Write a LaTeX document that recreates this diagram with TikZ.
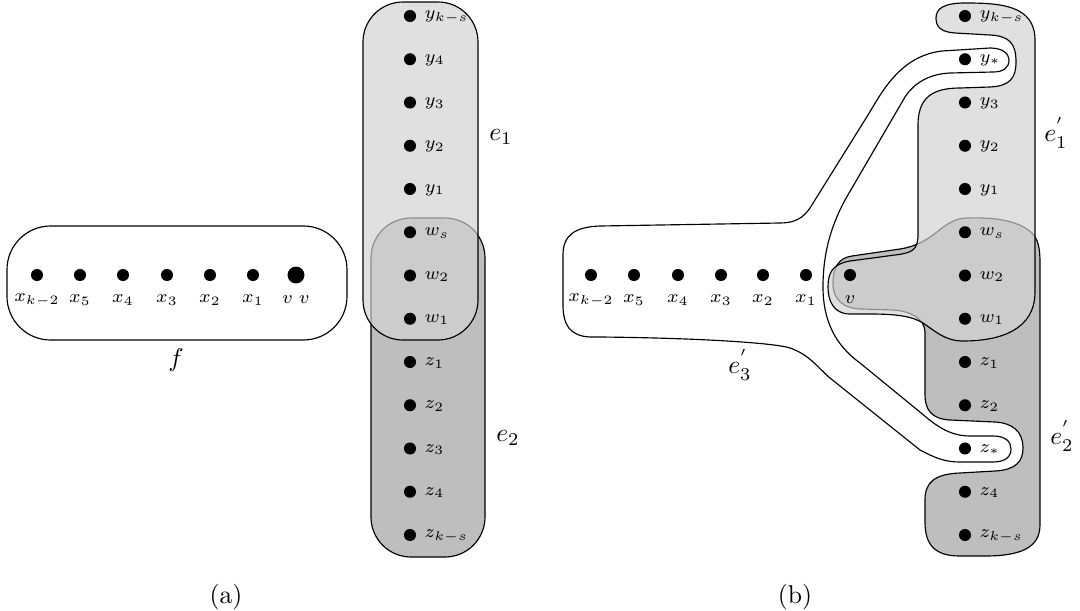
\documentclass[tikz,border=0pt]{standalone}
\definecolor{lgray}{gray}{0.88}
\definecolor{dgray}{gray}{0.745}
\definecolor{mgray}{gray}{0.80}
\definecolor{bgray}{gray}{0.55}
\tikzset{
  vtx/.style={circle,fill=black,inner sep=0pt,minimum size=4.7pt},
  bigvtx/.style={circle,fill=black,inner sep=0pt,minimum size=6.6pt},
  vlab/.style={inner sep=0pt,font=\scriptsize},
  border/.style={line width=0.45pt,black},
  graybord/.style={line width=0.45pt,bgray},
  erase/.style={line width=1.4pt,lgray},
  rc/.style={rounded corners=15.6pt}
}
\def\EoneA{(363,2) rectangle (478,340)}
\def\EtwoA{(371,218) rectangle (485,557)}
\def\EoneB{(965,3) .. controls (1000,3) and (1035,5) .. (1035,40) -- (1035,292) .. controls (1035,330) and (1000,341) .. (963,341) .. controls (945,341) and (935,331) .. (923,323) .. controls (912,316) and (895,314) .. (870,314) -- (850,314) .. controls (833,314) and (828,300) .. (828,287) .. controls (828,272) and (833,264) .. (850,261) -- (895,255) .. controls (912,253) and (918,250) .. (918,235) -- (918,125) .. controls (918,98) and (932,88) .. (960,88) -- (990,87) .. controls (1010,86) and (1016,78) .. (1016,62) .. controls (1016,44) and (1010,36) .. (990,35) -- (955,33) .. controls (941,32) and (936,27) .. (936,18) .. controls (936,8) and (945,3) .. (965,3) -- cycle}
\def\EtwoB{(967,218) .. controls (1000,217) and (1020,222) .. (1032,233) .. controls (1038,239) and (1040,248) .. (1040,262) -- (1040,525) .. controls (1040,548) and (1020,556) .. (985,556) -- (960,556) .. controls (935,556) and (925,545) .. (925,522) -- (925,500) .. controls (925,482) and (935,474) .. (960,473) -- (995,471) .. controls (1015,470) and (1023,462) .. (1023,448) .. controls (1023,431) and (1012,423) .. (995,422) -- (950,420) .. controls (932,419) and (925,410) .. (925,395) -- (925,332) .. controls (925,320) and (912,311) .. (893,310) -- (862,309) .. controls (842,309) and (833,298) .. (833,284) .. controls (833,268) and (838,258) .. (852,256) -- (900,249) .. controls (920,246) and (932,236) .. (942,228) .. controls (950,222) and (958,218) .. (967,218) -- cycle}
\def\EthreeB{(600,226) -- (780,223) .. controls (795,223) and (803,218) .. (810,208) -- (868,115) .. controls (882,92) and (900,56) .. (942,51) -- (990,48) .. controls (1003,48) and (1009,54) .. (1009,60) .. controls (1009,68) and (1003,72) .. (993,72) -- (950,73) .. controls (930,74) and (915,82) .. (905,97) -- (845,200) .. controls (830,228) and (823,255) .. (823,287) .. controls (823,320) and (835,345) .. (860,363) -- (915,408) .. controls (930,420) and (945,436) .. (970,436) -- (993,436) .. controls (1006,436) and (1011,442) .. (1011,449) .. controls (1011,457) and (1005,462) .. (993,462) -- (960,462) .. controls (945,462) and (935,458) .. (920,450) -- (830,378) .. controls (818,368) and (810,355) .. (790,348) .. controls (775,343) and (700,338) .. (600,337) -- (590,337) .. controls (570,336) and (563,325) .. (563,305) -- (563,255) .. controls (563,235) and (575,227) .. (600,226) -- cycle}
\begin{document}
\begin{tikzpicture}[x=0.39pt,y=-0.39pt]
\useasboundingbox (0,0) rectangle (1080,611);
% ---------- panel (a) ----------
\fill[lgray,rc] \EoneA;
\fill[dgray,rc] \EtwoA;
\draw[border,rc] \EtwoA;
\begin{scope}
  \clip[rc] \EoneA;
  \draw[erase,rc] \EtwoA;
  \fill[mgray,rc] \EtwoA;
  \draw[graybord,rc] \EtwoA;
\end{scope}
\draw[border,rc] \EoneA;
\draw[border,rounded corners=17pt] (7,226) rectangle (347,340);
% row of (a)
\foreach \i/\x/\lab in {1/37/{x_{k-2}},2/80/{x_5},3/123/{x_4},4/167/{x_3},5/210/{x_2},6/253/{x_1}}{
  \node[vtx] (ax\i) at (\x,275) {};
  \node[vlab] (axl\i) at (\x,300) {$\lab$};
}
\node[bigvtx] (av) at (296,275) {};
\node[vlab] (avl) at (296,300) {$v\;v$};
% column of (a)
\foreach \i/\lab in {0/{y_{k-s}},1/{y_4},2/{y_3},3/{y_2},4/{y_1},5/{w_s},6/{w_2},7/{w_1},8/{z_1},9/{z_2},10/{z_3},11/{z_4},12/{z_{k-s}}}{
  \node[vtx] (ac\i) at (410,{16+43.25*\i}) {};
  \node[vlab,anchor=west] (acl\i) at (424,{17+43.25*\i}) {$\lab$};
}
\node (le1) at (501,137) {$e_1$};
\node (le2) at (508,438) {$e_2$};
\node (lf) at (176,360) {$f$};
\node (capa) at (226,597) {(a)};
% ---------- panel (b) ----------
\fill[lgray] \EoneB;
\fill[dgray] \EtwoB;
\draw[border] \EtwoB;
\begin{scope}
  \clip \EoneB;
  \draw[erase] \EtwoB;
  \fill[mgray] \EtwoB;
  \draw[graybord] \EtwoB;
\end{scope}
\draw[border] \EoneB;
\draw[border] \EthreeB;
\foreach \i/\x/\lab in {1/591/{x_{k-2}},2/634/{x_5},3/678/{x_4},4/721/{x_3},5/763/{x_2},6/806/{x_1}}{
  \node[vtx] (bx\i) at (\x,275) {};
  \node[vlab] (bxl\i) at (\x,300) {$\lab$};
}
\node[vtx] (bv) at (850,275) {};
\node[vlab] (bvl) at (850,300) {$v$};
\foreach \i/\lab in {0/{y_{k-s}},1/{y_*},2/{y_3},3/{y_2},4/{y_1},5/{w_s},6/{w_2},7/{w_1},8/{z_1},9/{z_2},10/{z_*},11/{z_4},12/{z_{k-s}}}{
  \node[vtx] (bc\i) at (965,{16+43.25*\i}) {};
  \node[vlab,anchor=west] (bcl\i) at (979,{17+43.25*\i}) {$\lab$};
}
\node (le1p) at (1056,133) {$e_1^{'}$};
\node (le2p) at (1062,436) {$e_2^{'}$};
\node (le3p) at (740,365) {$e_3^{'}$};
\node (capb) at (795,597) {(b)};
\end{tikzpicture}
\end{document}
